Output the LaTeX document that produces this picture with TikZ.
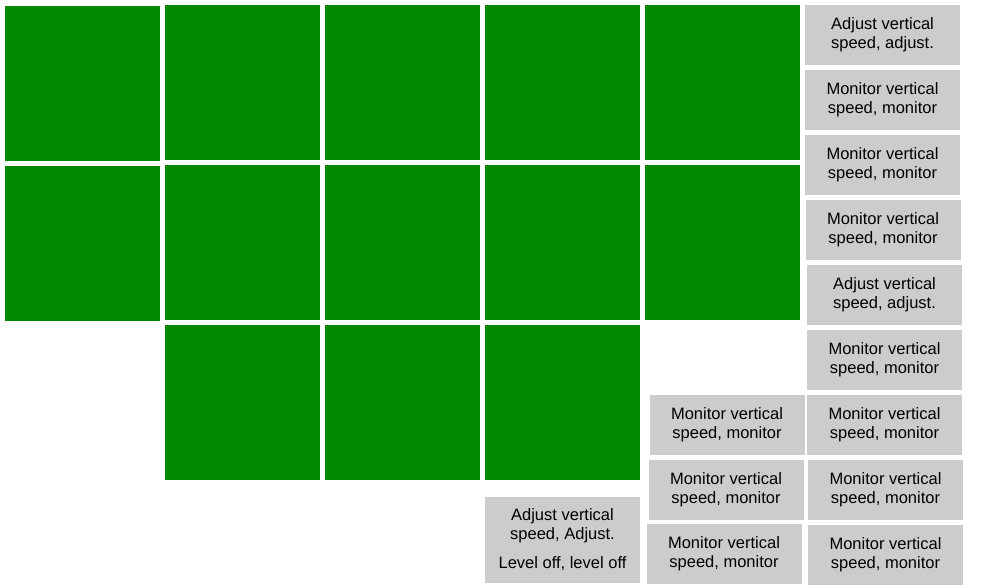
\documentclass[tikz,border=0pt]{standalone}
\usepackage{fontspec}
\setmainfont{Liberation Sans}
\definecolor{boxgreen}{HTML}{008800}
\definecolor{boxgray}{HTML}{CCCCCC}
\begin{document}
\begin{tikzpicture}[x=1pt,y=-1pt,
  every node/.style={inner sep=0pt,outer sep=0pt},
  gbox/.style={fill=boxgreen,minimum width=155pt,minimum height=155pt},
  tbox/.style={fill=boxgray,minimum width=155pt,minimum height=60pt,align=center,
    font=\fontsize{16.5pt}{19pt}\selectfont,text=black}]
\useasboundingbox[fill=white] (0,0) rectangle (1000,588);
% green squares
\node[gbox] (g11) at (82.5,83.5) {};
\node[gbox] (g21) at (82.5,243.5) {};
\node[gbox] (g12) at (242.5,82.5) {};
\node[gbox] (g13) at (402.5,82.5) {};
\node[gbox] (g14) at (562.5,82.5) {};
\node[gbox] (g15) at (722.5,82.5) {};
\node[gbox] (g22) at (242.5,242.5) {};
\node[gbox] (g23) at (402.5,242.5) {};
\node[gbox] (g24) at (562.5,242.5) {};
\node[gbox] (g25) at (722.5,242.5) {};
\node[gbox] (g32) at (242.5,402.5) {};
\node[gbox] (g33) at (402.5,402.5) {};
\node[gbox] (g34) at (562.5,402.5) {};
% right column
\node[tbox] (r1) at (882.5,35) {Adjust vertical\\speed, adjust.};
\node[tbox] (r2) at (882.5,100) {Monitor vertical\\speed, monitor};
\node[tbox] (r3) at (882.5,165) {Monitor vertical\\speed, monitor};
\node[tbox] (r4) at (883,230) {Monitor vertical\\speed, monitor};
\node[tbox] (r5) at (884.5,295) {Adjust vertical\\speed, adjust.};
\node[tbox] (r6) at (884.5,360) {Monitor vertical\\speed, monitor};
\node[tbox] (r7) at (884.5,425) {Monitor vertical\\speed, monitor};
\node[tbox] (r8) at (885.5,490) {Monitor vertical\\speed, monitor};
\node[tbox] (r9) at (885.5,555) {Monitor vertical\\speed, monitor};
% second column
\node[tbox] (l1) at (727,425) {Monitor vertical\\speed, monitor};
\node[tbox] (l2) at (726,490) {Monitor vertical\\speed, monitor};
\node[tbox] (l3) at (724,554) {Monitor vertical\\speed, monitor};
% bottom box
\node[tbox,minimum height=86pt] (b1) at (562.5,540) {Adjust vertical\\speed, Adjust.\\[10pt]Level off, level off};
\end{tikzpicture}
\end{document}
